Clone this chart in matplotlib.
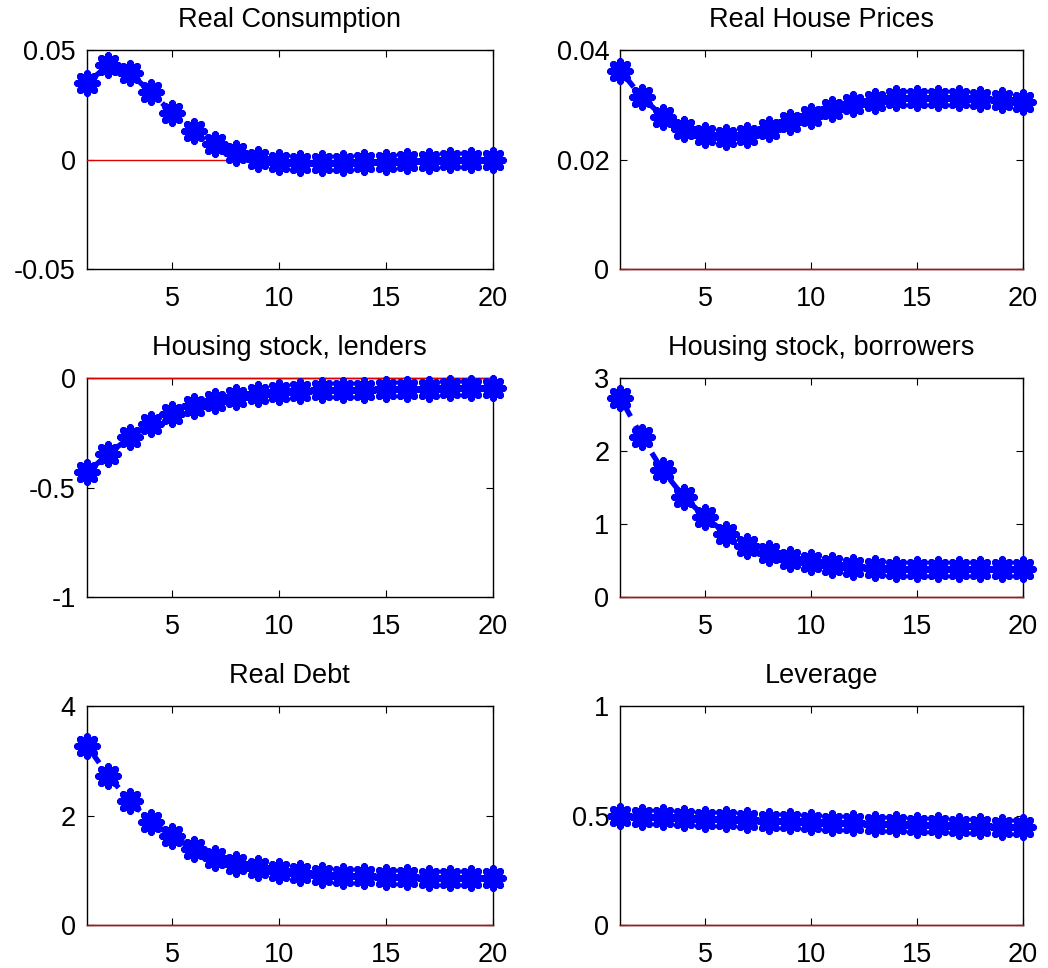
import numpy as np
import matplotlib
matplotlib.use("Agg")
import matplotlib.pyplot as plt
from matplotlib.markers import MarkerStyle

plt.rcParams['font.family'] = ['Liberation Sans', 'DejaVu Sans']

periods = np.arange(1, 21)

consumption = [0.0350, 0.0433, 0.0396, 0.0308, 0.0213, 0.0133, 0.0072, 0.0030, 0.0003, -0.0010,
               -0.0015, -0.0015, -0.0015, -0.0011, -0.0010, -0.0008, -0.0004, -0.0003, -0.0001, 0.0000]
house_prices = [0.0363, 0.0315, 0.0279, 0.0257, 0.0245, 0.0241, 0.0246, 0.0257, 0.0269, 0.0280,
                0.0293, 0.0302, 0.0308, 0.0312, 0.0313, 0.0313, 0.0313, 0.0311, 0.0309, 0.0306]
housing_lenders = [-0.430, -0.347, -0.270, -0.210, -0.164, -0.129, -0.103, -0.085, -0.073, -0.061,
                   -0.058, -0.055, -0.053, -0.052, -0.051, -0.050, -0.048, -0.047, -0.046, -0.045]
housing_borrowers = [2.73, 2.20, 1.735, 1.37, 1.096, 0.868, 0.703, 0.603, 0.521, 0.475,
                     0.443, 0.411, 0.397, 0.388, 0.384, 0.383, 0.382, 0.380, 0.379, 0.379]
real_debt = [3.28, 2.73, 2.27, 1.89, 1.62, 1.39, 1.23, 1.12, 1.04, 0.98,
             0.95, 0.92, 0.90, 0.89, 0.875, 0.870, 0.863, 0.862, 0.857, 0.857]
leverage = [0.498, 0.495, 0.493, 0.489, 0.486, 0.483, 0.480, 0.477, 0.474, 0.471,
            0.468, 0.465, 0.464, 0.460, 0.459, 0.456, 0.454, 0.451, 0.450, 0.447]

titles = ["Real Consumption", "Real House Prices", "Housing stock, lenders",
          "Housing stock, borrowers", "Real Debt", "Leverage"]
series = [consumption, house_prices, housing_lenders, housing_borrowers, real_debt, leverage]
yticks = [[-0.05, 0, 0.05], [0, 0.02, 0.04], [-1, -0.5, 0], [0, 1, 2, 3], [0, 2, 4], [0, 0.5, 1]]
yticklabels = [["-0.05", "0", "0.05"], ["0", "0.02", "0.04"], ["-1", "-0.5", "0"],
               ["0", "1", "2", "3"], ["0", "2", "4"], ["0", "0.5", "1"]]

fig = plt.figure(figsize=(10.48, 9.68), dpi=100)

lefts = [0.083, 0.592]
widths = [0.387, 0.384]
bottoms = [0.722, 0.3833, 0.0444]
height = 0.226

# MATLAB-style '*' marker: 8 spokes with round ends
asterisk = MarkerStyle((8, 2, 0), capstyle='round', joinstyle='round')

for i, (title, y) in enumerate(zip(titles, series)):
    row, col = divmod(i, 2)
    ax = fig.add_axes([lefts[col], bottoms[row], widths[col], height])
    ax.axhline(0, color='#e00000', lw=1.0, zorder=3, clip_on=False)
    ax.plot(periods, y, color='#0000ff', lw=3.8, dashes=(4, 2),
            marker=asterisk, markersize=14, markeredgewidth=5.2,
            clip_on=False, zorder=4)
    ax.set_xlim(1, 20)
    ax.set_ylim(yticks[i][0], yticks[i][-1])
    ax.set_xticks([5, 10, 15, 20])
    ax.set_yticks(yticks[i])
    ax.set_yticklabels(yticklabels[i])
    ax.tick_params(direction='in', top=True, right=True, length=5, width=0.8,
                   labelsize=19.5)
    ax.tick_params(axis='x', pad=12)
    ax.tick_params(axis='y', pad=8)
    for s in ax.spines.values():
        s.set_linewidth(1.0)
    ax.set_title(title, fontsize=19.5, pad=17)

fig.savefig("out.png", dpi=100)
